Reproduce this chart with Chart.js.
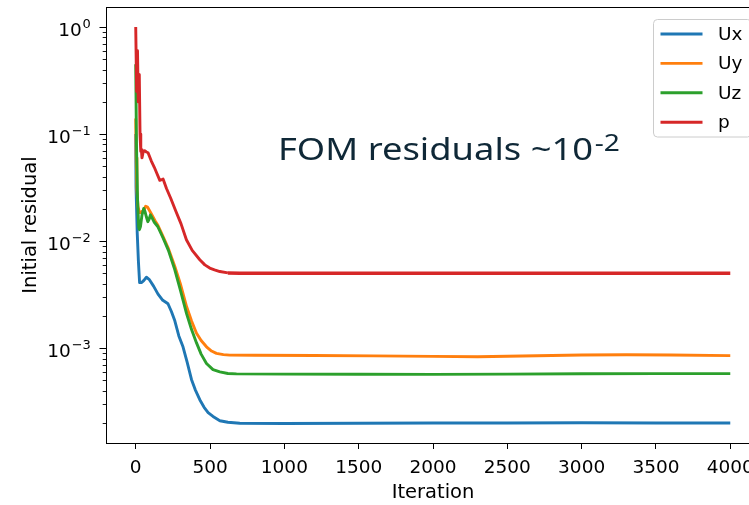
<!DOCTYPE html>
<html>
<head>
<meta charset="utf-8">
<script src="https://cdn.jsdelivr.net/npm/chart.js@4.4.1/dist/chart.umd.min.js"></script>
<style>
  html, body { margin: 0; padding: 0; background: #fff; overflow: hidden; width: 749px; height: 505px; }
  #wrap { position: absolute; left: 0; top: 0; width: 800px; height: 505px; }
</style>
</head>
<body>
<div id="wrap"><canvas id="c" width="800" height="505"></canvas></div>
<script>
// Initial residuals per solver iteration (log scale)
const uxIter = [0, 2, 10, 18, 26, 40, 55, 72, 90, 120, 150, 182, 200, 217, 240, 263, 290, 318, 345, 375, 400, 431, 460, 487, 520, 566, 620, 700, 1000, 1500, 2000, 2500, 3000, 3500, 4000];
const uxRes  = [0.10, 0.032, 0.012, 0.0065, 0.0041, 0.0041, 0.0043, 0.0046, 0.0044, 0.0038, 0.0032, 0.0028, 0.0027, 0.0026, 0.0022, 0.0018, 0.0013, 0.00103, 0.00075, 0.00051, 0.00041, 0.00033, 0.00028, 0.00025, 0.00023, 0.00021, 0.000203, 0.000199, 0.000198, 0.000199, 0.000200, 0.000200, 0.000201, 0.000200, 0.000200];

const uyIter = [0, 3, 8, 15, 25, 33, 45, 55, 67, 79, 100, 130, 150, 184, 220, 263, 300, 342, 375, 409, 440, 476, 510, 543, 590, 633, 800, 1200, 1600, 2000, 2300, 2600, 3000, 3300, 3600, 4000];
const uyRes  = [0.14, 0.06, 0.03, 0.021, 0.0185, 0.0185, 0.019, 0.0195, 0.0212, 0.0208, 0.0185, 0.0155, 0.014, 0.011, 0.0085, 0.0058, 0.004, 0.00245, 0.0018, 0.00138, 0.00118, 0.00103, 0.00094, 0.000895, 0.00087, 0.00086, 0.000858, 0.000855, 0.000848, 0.000838, 0.000832, 0.000845, 0.000862, 0.000868, 0.000862, 0.000852];

const uzIter = [0, 5, 12, 20, 25, 32, 42, 54, 62, 72, 81, 90, 99, 110, 125, 148, 184, 220, 263, 300, 342, 375, 409, 440, 476, 520, 566, 620, 678, 1000, 1500, 2000, 2500, 3000, 3500, 4000];
const uzRes  = [0.45, 0.08, 0.025, 0.0135, 0.0128, 0.0137, 0.0175, 0.0202, 0.019, 0.0168, 0.0152, 0.016, 0.0176, 0.0165, 0.015, 0.0137, 0.0107, 0.0082, 0.0054, 0.0035, 0.0021, 0.0015, 0.00112, 0.00088, 0.00072, 0.00063, 0.0006, 0.00058, 0.000575, 0.000572, 0.00057, 0.000569, 0.000572, 0.000576, 0.000578, 0.000578];

const pIter = [0, 6, 12, 17, 24, 29, 34, 38, 42, 50, 60, 72, 83, 105, 125, 139, 162, 175, 184, 207, 236, 270, 305, 341, 380, 431, 465, 498, 530, 566, 620, 700, 1000, 1500, 2000, 2500, 3000, 3500, 4000];
const pRes  = [1.0, 0.25, 0.6, 0.2, 0.36, 0.1, 0.069, 0.0715, 0.06, 0.068, 0.07, 0.068, 0.067, 0.056, 0.049, 0.044, 0.037, 0.0375, 0.038, 0.031, 0.025, 0.019, 0.0145, 0.0103, 0.0082, 0.0067, 0.006, 0.0056, 0.0054, 0.0052, 0.00505, 0.0050, 0.0050, 0.0050, 0.0050, 0.0050, 0.0050, 0.0050, 0.0050];

const seriesLabels = ['Ux', 'Uy', 'Uz', 'p'];
const seriesColors = ['#1f77b4', '#ff7f0e', '#2ca02c', '#d62728'];
const xTicks = [0, 500, 1000, 1500, 2000, 2500, 3000, 3500, 4000];
const yTickExponents = [-3, -2, -1, 0];
const xTitle = 'Iteration';
const yTitle = 'Initial residual';
const noteText = 'FOM residuals ~10';
const noteSup = '-2';

const FONT = 'DejaVu Sans';

function points(xs, ys) { return xs.map((x, i) => ({ x: x, y: ys[i] })); }

const decor = {
  id: 'decor',
  afterDraw(chart) {
    const { ctx, chartArea: a, scales: { y } } = chart;
    ctx.save();
    // axes frame
    ctx.strokeStyle = '#000';
    ctx.lineWidth = 1;
    const L = Math.round(a.left) + 0.5, T = Math.round(a.top) + 0.5;
    const R = Math.round(a.right) + 0.5, B = Math.round(a.bottom) + 0.5;
    ctx.strokeRect(L, T, R - L, B - T);

    // minor log ticks
    ctx.lineWidth = 0.9;
    for (let e = -4; e <= 0; e++) {
      for (let m = 2; m <= 9; m++) {
        const v = m * Math.pow(10, e);
        if (v < y.min || v > y.max) continue;
        const py = Math.round(y.getPixelForValue(v)) + 0.5;
        ctx.beginPath();
        ctx.moveTo(L - 3.8, py);
        ctx.lineTo(L, py);
        ctx.stroke();
      }
    }

    // y tick labels as 10 with a raised exponent
    ctx.fillStyle = '#000';
    ctx.textBaseline = 'alphabetic';
    ctx.textAlign = 'left';
    const rightEdge = 90.5;
    yTickExponents.forEach(e => {
      const py = y.getPixelForValue(Math.pow(10, e));
      const sup = e === 0 ? '0' : '\u2212' + Math.abs(e);
      ctx.font = '13px "' + FONT + '"';
      const ws = ctx.measureText(sup).width;
      ctx.font = '18.5px "' + FONT + '"';
      const wb = ctx.measureText('10').width;
      const x0 = rightEdge - ws - wb - 0.5;
      ctx.fillText('10', x0, py + 8.5);
      ctx.font = '13px "' + FONT + '"';
      ctx.fillText(sup, x0 + wb + 0.8, py + 0.5);
    });

    // legend
    const bx = 653.5, by = 19.5, bw = 98, bh = 117.5, r = 4;
    ctx.beginPath();
    ctx.moveTo(bx + r, by);
    ctx.lineTo(bx + bw - r, by);
    ctx.arcTo(bx + bw, by, bx + bw, by + r, r);
    ctx.lineTo(bx + bw, by + bh - r);
    ctx.arcTo(bx + bw, by + bh, bx + bw - r, by + bh, r);
    ctx.lineTo(bx + r, by + bh);
    ctx.arcTo(bx, by + bh, bx, by + bh - r, r);
    ctx.lineTo(bx, by + r);
    ctx.arcTo(bx, by, bx + r, by, r);
    ctx.closePath();
    ctx.fillStyle = 'rgba(255,255,255,0.8)';
    ctx.fill();
    ctx.strokeStyle = '#cccccc';
    ctx.lineWidth = 1;
    ctx.stroke();

    ctx.font = '18.5px "' + FONT + '"';
    ctx.textBaseline = 'middle';
    chart.data.datasets.forEach((ds, i) => {
      const ry = 34 + i * 29.4;
      ctx.strokeStyle = ds.borderColor;
      ctx.lineWidth = 2.9;
      ctx.lineCap = 'butt';
      ctx.beginPath();
      ctx.moveTo(660.5, ry);
      ctx.lineTo(702.5, ry);
      ctx.stroke();
      ctx.fillStyle = '#000';
      ctx.fillText(ds.label, 718, ry + 1);
    });

    // annotation, stretched slightly to the wider face it is set in
    ctx.fillStyle = '#0f2837';
    ctx.textBaseline = 'alphabetic';
    ctx.font = '31px "Noto Sans"';
    const wm = ctx.measureText(noteText).width;
    const k = 315 / wm;
    ctx.save();
    ctx.translate(278, 0);
    ctx.scale(k, 1);
    ctx.fillText(noteText, 0, 159.5);
    ctx.font = '24px "Noto Sans"';
    ctx.fillText(noteSup, wm + 1.5, 151);
    ctx.restore();
    ctx.restore();
  }
};

const datasets = [
  { label: seriesLabels[0], data: points(uxIter, uxRes), borderColor: seriesColors[0], order: 3 },
  { label: seriesLabels[1], data: points(uyIter, uyRes), borderColor: seriesColors[1], order: 2 },
  { label: seriesLabels[2], data: points(uzIter, uzRes), borderColor: seriesColors[2], order: 1 },
  { label: seriesLabels[3], data: points(pIter, pRes), borderColor: seriesColors[3], order: 0,
    segment: { borderWidth: c => (c.p0.parsed.x >= 600 ? 3.5 : undefined) } }
].map(d => Object.assign({ borderWidth: 2.9, pointRadius: 0, tension: 0, fill: false, borderJoinStyle: 'round', borderCapStyle: 'butt' }, d));

new Chart(document.getElementById('c'), {
  type: 'line',
  data: { datasets: datasets },
  plugins: [decor],
  options: {
    responsive: false,
    animation: false,
    devicePixelRatio: 1,
    layout: { padding: { left: 0, top: 7, right: 40, bottom: 0 } },
    plugins: { legend: { display: false }, tooltip: { enabled: false } },
    scales: {
      x: {
        type: 'linear',
        min: -200,
        max: 4200,
        afterBuildTicks: s => { s.ticks = xTicks.map(v => ({ value: v })); },
        afterFit: s => { s.height = 62; },
        ticks: { font: { family: FONT, size: 18.5 }, color: '#000', padding: 8, maxRotation: 0, autoSkip: false, callback: v => String(v) },
        grid: { display: true, drawOnChartArea: false, drawTicks: true, tickLength: 6, tickColor: '#000', tickWidth: 1 },
        border: { display: true, color: '#000', width: 1 },
        title: { display: true, text: xTitle, font: { family: FONT, size: 19.5 }, color: '#000', padding: { top: 0, bottom: 0.5 } }
      },
      y: {
        type: 'logarithmic',
        min: 1.3e-4,
        max: 1.54,
        afterBuildTicks: s => { s.ticks = yTickExponents.map(e => ({ value: Math.pow(10, e), major: true })); },
        afterFit: s => { s.width = 106; },
        ticks: { display: false },
        grid: { display: true, drawOnChartArea: false, drawTicks: true, tickLength: 6.5, tickColor: '#000', tickWidth: 1 },
        border: { display: true, color: '#000', width: 1 },
        title: { display: true, text: yTitle, font: { family: FONT, size: 19.5 }, color: '#000', padding: { top: 19, bottom: 0 } }
      }
    }
  }
});
</script>
</body>
</html>
